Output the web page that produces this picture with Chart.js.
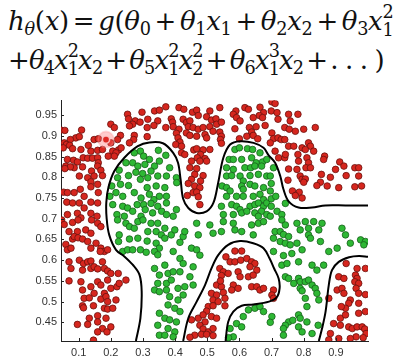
<!DOCTYPE html>
<html><head><meta charset="utf-8">
<script src="https://cdn.jsdelivr.net/npm/chart.js@4/dist/chart.umd.min.js"></script>
<style>
html,body{margin:0;padding:0;background:#fff;width:412px;height:360px;overflow:hidden}
.eq{position:absolute;left:8px;font-family:'DejaVu Serif',serif;font-size:26px;white-space:nowrap;color:#111;line-height:1.2;letter-spacing:-0.3px}
.eq i{font-style:italic}
.eq sub{font-size:0.68em;vertical-align:-0.3em;line-height:0}
.ss{display:inline-block;vertical-align:-0.32em;font-size:0.68em;line-height:1.0}
.ss>span{display:block}
.op{margin:0 0.15em}
#l2{letter-spacing:-0.9px}
#l2 .op{margin:0 0.12em}
#c{position:absolute;left:0;top:90px}
</style></head><body>
<div class="eq" id="l1" style="top:4px"><i>h</i><sub><i>θ</i></sub>(<i>x</i>)<span class="op">=</span><i>g</i>(<i>θ</i><sub>0</sub><span class="op">+</span><i>θ</i><sub>1</sub><i>x</i><sub>1</sub><span class="op">+</span><i>θ</i><sub>2</sub><i>x</i><sub>2</sub><span class="op">+</span><i>θ</i><sub>3</sub><i>x</i><span class="ss"><span>2</span><span>1</span></span></div>
<div class="eq" id="l2" style="top:43px">+<i>θ</i><sub>4</sub><i>x</i><span class="ss"><span>2</span><span>1</span></span><i>x</i><sub>2</sub><span class="op">+</span><i>θ</i><sub>5</sub><i>x</i><span class="ss"><span>2</span><span>1</span></span><i>x</i><span class="ss"><span>2</span><span>2</span></span><span class="op">+</span><i>θ</i><sub>6</sub><i>x</i><span class="ss"><span>3</span><span>1</span></span><i>x</i><sub>2</sub><span class="op">+</span>. . . )</div>
<canvas id="c" width="412" height="270"></canvas>
<script>
const xTicks = [0.1,0.2,0.3,0.4,0.5,0.6,0.7,0.8,0.9];
const yTicks = [0.45,0.5,0.55,0.6,0.65,0.7,0.75,0.8,0.85,0.9,0.95];

const redPoints = [
[0.297,0.957],[0.336,0.960],[0.351,0.962],[0.252,0.952],[0.255,0.941],[0.276,0.936],[0.291,0.933],[0.315,0.940],[0.346,0.936],[0.334,0.925],[0.313,0.920],[0.200,0.928],[0.211,0.920],[0.268,0.928],[0.258,0.924],
[0.044,0.914],[0.057,0.913],[0.109,0.914],[0.230,0.901],[0.273,0.901],[0.313,0.898],[0.271,0.891],[0.091,0.895],[0.102,0.898],[0.074,0.891],[0.148,0.891],[0.161,0.893],[0.200,0.883],[0.221,0.891],[0.055,0.883],[0.062,0.879],[0.052,0.871],[0.072,0.877],[0.081,0.869],[0.107,0.867],[0.130,0.877],[0.138,0.863],[0.159,0.865],[0.174,0.867],[0.206,0.863],[0.224,0.866],[0.232,0.871],[0.216,0.859],[0.258,0.883],
[0.065,0.843],[0.084,0.841],[0.096,0.837],[0.114,0.847],[0.128,0.846],[0.143,0.846],[0.159,0.847],[0.161,0.835],[0.192,0.851],[0.211,0.851],
[0.086,0.823],[0.112,0.825],[0.140,0.815],[0.159,0.827],[0.169,0.817],[0.174,0.804],[0.060,0.827],[0.074,0.825],[0.057,0.821],
[0.102,0.803],[0.128,0.799],[0.148,0.803],[0.138,0.789],
[0.053,0.764],[0.065,0.763],[0.086,0.763],[0.105,0.771],[0.138,0.777],[0.159,0.783],[0.161,0.763],[0.117,0.754],
[0.063,0.740],[0.081,0.738],[0.102,0.738],[0.138,0.740],[0.159,0.738],[0.117,0.726],
[0.065,0.710],[0.096,0.713],[0.138,0.713],[0.157,0.706],[0.107,0.702],
[0.371,0.970],[0.412,0.968],[0.427,0.964],[0.454,0.957],[0.467,0.962],[0.508,0.960],[0.539,0.968],[0.589,0.960],[0.617,0.968],[0.628,0.964],[0.664,0.969],[0.675,0.956],[0.662,0.949],
[0.388,0.941],[0.392,0.933],[0.425,0.940],[0.435,0.932],[0.446,0.936],[0.472,0.949],[0.498,0.946],[0.513,0.938],[0.527,0.941],[0.529,0.928],[0.544,0.933],[0.581,0.952],[0.591,0.944],[0.602,0.936],[0.643,0.944],[0.672,0.944],
[0.371,0.920],[0.394,0.922],[0.412,0.916],[0.441,0.922],[0.456,0.920],[0.472,0.916],[0.487,0.920],[0.508,0.922],[0.518,0.911],[0.539,0.909],[0.544,0.899],[0.586,0.917],[0.631,0.920],[0.638,0.909],[0.652,0.922],[0.680,0.925],
[0.404,0.906],[0.409,0.895],[0.415,0.885],[0.435,0.907],[0.446,0.901],[0.467,0.899],[0.493,0.903],[0.498,0.895],[0.541,0.891],[0.600,0.893],[0.623,0.899],[0.643,0.901],[0.657,0.893],
[0.402,0.879],[0.420,0.875],[0.544,0.882],
[0.420,0.859],[0.430,0.855],[0.458,0.866],[0.467,0.869],[0.487,0.866],[0.508,0.867],[0.479,0.855],[0.469,0.847],[0.493,0.845],[0.451,0.839],[0.477,0.839],[0.498,0.839],[0.446,0.823],[0.467,0.821],[0.461,0.807],[0.487,0.804],[0.451,0.795],[0.479,0.791],[0.441,0.785],[0.461,0.779],[0.477,0.775],[0.438,0.756],[0.456,0.763],[0.467,0.764],[0.472,0.753],[0.477,0.734],
[0.701,0.982],[0.711,0.978],[0.699,0.960],[0.717,0.956],[0.720,0.940],[0.753,0.952],[0.782,0.952],[0.758,0.936],[0.741,0.920],[0.755,0.916],[0.774,0.911],[0.800,0.916],[0.836,0.920],[0.701,0.907],[0.706,0.893],[0.696,0.883],[0.720,0.895],[0.730,0.891],[0.741,0.891],[0.753,0.875],[0.769,0.875],[0.795,0.871],[0.815,0.883],[0.821,0.875],[0.831,0.863],[0.782,0.855],[0.805,0.867],[0.784,0.839],[0.810,0.847],[0.815,0.835],[0.807,0.823],[0.821,0.823],[0.865,0.851],[0.862,0.843],[0.711,0.863],[0.722,0.847],[0.741,0.847],[0.743,0.855],[0.753,0.820],[0.779,0.819],[0.912,0.837],[0.925,0.827],[0.899,0.819],[0.959,0.823],[0.971,0.823],[0.932,0.804],[0.971,0.803],[0.789,0.803],[0.795,0.795],[0.805,0.796],[0.800,0.788],[0.855,0.807],[0.883,0.800],[0.852,0.788],[0.841,0.780],[0.873,0.779],[0.751,0.793],[0.765,0.767],[0.786,0.764],[0.774,0.756],[0.795,0.750],[0.909,0.775],[0.959,0.777],[0.980,0.779],
[0.047,0.697],[0.055,0.686],[0.081,0.691],[0.098,0.697],[0.140,0.697],[0.159,0.689],[0.169,0.681],[0.070,0.669],[0.096,0.669],[0.122,0.673],[0.138,0.665],[0.081,0.651],[0.086,0.657],[0.098,0.654],[0.112,0.651],[0.060,0.638],[0.065,0.625],[0.076,0.629],[0.128,0.645],[0.138,0.629],[0.154,0.641],[0.169,0.629],[0.180,0.621],[0.190,0.625],[0.167,0.621],[0.070,0.596],[0.076,0.580],[0.102,0.600],[0.115,0.592],[0.128,0.596],[0.138,0.598],[0.138,0.580],[0.148,0.584],[0.159,0.579],[0.174,0.596],[0.180,0.580],[0.190,0.574],[0.200,0.568],[0.223,0.568],[0.112,0.576],[0.070,0.550],[0.107,0.548],[0.112,0.528],[0.138,0.536],[0.159,0.548],[0.169,0.540],[0.190,0.552],[0.200,0.532],[0.219,0.536],[0.226,0.544],[0.247,0.552],[0.180,0.520],[0.148,0.520],[0.117,0.508],[0.133,0.509],[0.169,0.506],[0.185,0.512],[0.190,0.500],[0.112,0.490],[0.115,0.485],[0.146,0.490],[0.180,0.484],[0.190,0.482],[0.206,0.484],[0.216,0.504],[0.133,0.460],[0.159,0.466],[0.185,0.460],[0.159,0.451],[0.096,0.445],[0.128,0.445],[0.174,0.435],[0.188,0.427],[0.159,0.427],[0.146,0.407],[0.200,0.439],
[0.586,0.622],[0.607,0.622],[0.558,0.608],[0.571,0.596],[0.586,0.596],[0.604,0.600],[0.623,0.604],[0.638,0.596],[0.648,0.592],[0.633,0.584],[0.654,0.576],[0.539,0.580],[0.550,0.572],[0.544,0.563],[0.565,0.568],[0.596,0.572],[0.602,0.560],[0.628,0.560],[0.643,0.564],[0.529,0.540],[0.544,0.536],[0.541,0.550],[0.581,0.540],[0.576,0.528],[0.596,0.532],[0.638,0.536],[0.654,0.536],[0.664,0.528],[0.675,0.532],[0.513,0.520],[0.529,0.516],[0.550,0.522],[0.555,0.508],[0.518,0.504],[0.534,0.500],[0.503,0.488],[0.518,0.490],[0.555,0.490],[0.498,0.477],[0.472,0.460],[0.487,0.468],[0.513,0.464],[0.529,0.460],[0.451,0.456],[0.493,0.451],[0.477,0.443],[0.487,0.434],[0.503,0.427],[0.518,0.435],[0.461,0.419],[0.446,0.414],[0.482,0.421],[0.498,0.421],[0.518,0.418],
[0.706,0.528],[0.701,0.516],[0.706,0.508],
[0.932,0.592],[0.966,0.580],[0.992,0.580],[0.909,0.560],[0.925,0.556],[0.961,0.564],[0.966,0.556],[0.959,0.548],[0.971,0.544],[0.963,0.532],[0.878,0.508],[0.904,0.528],[0.919,0.532],[0.925,0.520],[0.945,0.504],[0.940,0.496],[0.930,0.484],[0.917,0.488],[0.971,0.520],[0.992,0.517],[0.971,0.496],[0.992,0.476],[0.971,0.472],[0.893,0.447],[0.914,0.443],[0.914,0.460],[0.930,0.468],[0.940,0.439],[0.951,0.435],[0.966,0.439],[0.982,0.439],[0.990,0.434],[0.994,0.423],[0.985,0.413],[0.963,0.415],[0.945,0.411],[0.883,0.423],[0.878,0.408],[0.909,0.411]
];

const greenPoints = [
[0.273,0.859],[0.292,0.863],[0.302,0.851],[0.320,0.843],[0.348,0.865],[0.247,0.835],[0.226,0.817],[0.268,0.835],[0.284,0.827],[0.306,0.831],[0.336,0.827],[0.351,0.839],[0.325,0.815],[0.299,0.809],[0.278,0.812],[0.255,0.804],[0.203,0.779],[0.221,0.799],[0.230,0.783],[0.255,0.780],[0.292,0.795],[0.315,0.799],[0.346,0.803],[0.341,0.779],[0.313,0.775],[0.197,0.754],[0.216,0.763],[0.237,0.754],[0.273,0.763],[0.294,0.750],[0.320,0.759],[0.334,0.746],[0.351,0.754],[0.206,0.734],[0.237,0.730],[0.252,0.726],[0.282,0.734],[0.302,0.734],[0.307,0.722],[0.325,0.737],[0.346,0.730],[0.219,0.710],[0.242,0.706],[0.268,0.718],[0.294,0.706],[0.330,0.714],[0.358,0.718],
[0.371,0.853],[0.383,0.823],[0.373,0.803],[0.404,0.799],[0.405,0.787],[0.368,0.775],[0.373,0.754],[0.373,0.738],[0.404,0.722],[0.373,0.710],[0.394,0.706],
[0.586,0.867],[0.600,0.871],[0.625,0.869],[0.641,0.867],[0.664,0.859],[0.568,0.843],[0.581,0.843],[0.607,0.843],[0.638,0.847],[0.652,0.835],[0.672,0.837],[0.685,0.843],[0.560,0.823],[0.581,0.819],[0.617,0.823],[0.635,0.823],[0.648,0.827],[0.669,0.827],[0.560,0.803],[0.576,0.804],[0.602,0.803],[0.612,0.791],[0.633,0.804],[0.659,0.807],[0.685,0.803],[0.546,0.779],[0.560,0.775],[0.571,0.767],[0.607,0.779],[0.612,0.771],[0.633,0.783],[0.648,0.779],[0.675,0.775],[0.560,0.754],[0.591,0.754],[0.612,0.754],[0.643,0.754],[0.664,0.759],[0.675,0.746],[0.544,0.730],[0.576,0.734],[0.591,0.730],[0.602,0.722],[0.633,0.730],[0.648,0.734],[0.659,0.738],[0.675,0.730],[0.685,0.738],[0.550,0.710],[0.581,0.710],[0.607,0.714],[0.623,0.718],[0.648,0.714],[0.669,0.718],[0.685,0.710],[0.659,0.706],
[0.706,0.823],[0.696,0.803],[0.699,0.785],[0.696,0.767],[0.699,0.748],[0.713,0.754],[0.743,0.737],[0.717,0.718],[0.699,0.730],[0.696,0.706],[0.732,0.710],
[0.221,0.697],[0.247,0.689],[0.258,0.681],[0.284,0.693],[0.300,0.697],[0.273,0.677],[0.325,0.689],[0.346,0.689],[0.315,0.669],[0.341,0.669],[0.357,0.661],[0.226,0.661],[0.224,0.645],[0.258,0.651],[0.284,0.653],[0.313,0.646],[0.341,0.641],[0.351,0.629],[0.237,0.621],[0.252,0.625],[0.268,0.625],[0.292,0.625],[0.310,0.619],[0.336,0.621],[0.346,0.613],[0.336,0.580],[0.351,0.564],[0.346,0.544],[0.336,0.528],[0.351,0.524],[0.351,0.472],[0.346,0.443],[0.351,0.419],
[0.368,0.677],[0.388,0.661],[0.399,0.673],[0.368,0.653],[0.415,0.643],[0.425,0.657],[0.430,0.669],[0.467,0.689],[0.472,0.661],[0.508,0.685],[0.518,0.665],[0.544,0.669],[0.550,0.693],[0.581,0.689],[0.586,0.673],[0.607,0.669],[0.638,0.685],[0.659,0.689],[0.675,0.693],[0.643,0.661],[0.394,0.621],[0.451,0.629],[0.467,0.625],[0.477,0.612],[0.415,0.604],[0.368,0.588],[0.425,0.592],[0.378,0.568],[0.394,0.572],[0.415,0.572],[0.456,0.584],[0.446,0.560],[0.373,0.544],[0.388,0.552],[0.409,0.532],[0.430,0.536],[0.456,0.540],[0.373,0.528],[0.383,0.512],[0.409,0.504],[0.425,0.516],[0.378,0.492],[0.399,0.484],[0.415,0.476],[0.368,0.460],[0.383,0.456],[0.404,0.451],[0.378,0.435],[0.399,0.427],[0.368,0.419],[0.394,0.415],
[0.628,0.480],[0.648,0.484],[0.664,0.488],[0.675,0.476],[0.612,0.464],[0.591,0.447],[0.571,0.435],[0.607,0.439],[0.581,0.415],[0.566,0.413],
[0.732,0.697],[0.743,0.685],[0.779,0.689],[0.805,0.693],[0.831,0.693],[0.857,0.689],[0.847,0.673],[0.815,0.677],[0.789,0.673],[0.711,0.669],[0.727,0.669],[0.737,0.662],[0.753,0.657],[0.706,0.653],[0.727,0.645],[0.743,0.641],[0.758,0.637],[0.779,0.641],[0.815,0.661],[0.821,0.653],[0.852,0.645],[0.919,0.677],[0.930,0.661],[0.945,0.641],[0.977,0.649],[0.992,0.645],[0.987,0.637],[0.706,0.621],[0.737,0.611],[0.763,0.616],[0.795,0.625],[0.878,0.621],[0.904,0.629],[0.732,0.588],[0.748,0.592],[0.784,0.596],[0.826,0.588],[0.841,0.576],[0.862,0.588],[0.743,0.560],[0.753,0.556],[0.784,0.556],[0.789,0.548],[0.769,0.544],[0.805,0.548],[0.815,0.552],[0.826,0.540],[0.789,0.532],[0.795,0.526],[0.836,0.532],[0.841,0.520],[0.805,0.508],[0.847,0.504],[0.810,0.488],[0.784,0.468],[0.789,0.460],[0.753,0.451],[0.743,0.443],[0.766,0.455],[0.737,0.435],[0.784,0.439],[0.810,0.451],[0.845,0.443],[0.737,0.419],[0.795,0.427],[0.826,0.423],[0.701,0.464],[0.696,0.450]
];

const highlightPoint = [[0.185,0.891]];

const boundaryMain = [[0.278,0.405],[0.292,0.460],[0.296,0.524],[0.289,0.565],[0.268,0.589],[0.242,0.609],[0.216,0.625],[0.195,0.661],[0.187,0.701],[0.186,0.740],[0.193,0.777],[0.211,0.815],[0.242,0.847],[0.284,0.875],[0.320,0.884],[0.362,0.882],[0.394,0.859],[0.409,0.835],[0.417,0.795],[0.425,0.748],[0.441,0.726],[0.467,0.714],[0.498,0.718],[0.519,0.738],[0.534,0.787],[0.550,0.847],[0.571,0.879],[0.602,0.887],[0.644,0.883],[0.675,0.871],[0.691,0.853],[0.711,0.835],[0.727,0.803],[0.737,0.771],[0.753,0.742],[0.784,0.727],[0.826,0.727],[0.867,0.732],[0.930,0.732],[1.0,0.732]];
const boundaryInner = [[0.425,0.405],[0.441,0.460],[0.467,0.500],[0.493,0.540],[0.513,0.580],[0.534,0.612],[0.565,0.637],[0.602,0.646],[0.643,0.641],[0.675,0.629],[0.694,0.604],[0.708,0.580],[0.722,0.556],[0.725,0.532],[0.716,0.510],[0.692,0.500],[0.643,0.493],[0.607,0.490],[0.581,0.476],[0.565,0.451],[0.557,0.405]];
const boundaryRight = [[0.847,0.405],[0.857,0.435],[0.868,0.476],[0.878,0.540],[0.888,0.576],[0.909,0.596],[0.941,0.607],[0.972,0.610],[1.0,0.608]];

const toXY = arr => arr.map(p => ({x:p[0], y:p[1]}));
const curve = arr => ({data:toXY(arr), showLine:true, borderColor:'#000', borderWidth:2, pointRadius:0, tension:0.35, fill:false, order:0});

const inwardTicks = {
  id:'inwardTicks',
  afterDatasetsDraw(chart){
    const c = chart.ctx, xs = chart.scales.x, ys = chart.scales.y, a = chart.chartArea;
    c.save(); c.strokeStyle='#222'; c.lineWidth=1; c.beginPath();
    xs.ticks.forEach(t=>{const px=Math.round(xs.getPixelForValue(t.value))+0.5; c.moveTo(px,a.bottom); c.lineTo(px,a.bottom-3);});
    ys.ticks.forEach(t=>{const py=Math.round(ys.getPixelForValue(t.value))+0.5; c.moveTo(a.left,py); c.lineTo(a.left+3,py);});
    c.stroke(); c.restore();
  }
};

new Chart(document.getElementById('c'), {
  type:'scatter',
  data:{datasets:[
    curve(boundaryMain), curve(boundaryInner), curve(boundaryRight),
    {data:toXY(greenPoints), backgroundColor:'rgb(46,184,52)', borderColor:'rgb(22,95,26)', borderWidth:0.8, pointRadius:3.3, order:2},
    {data:toXY(redPoints), backgroundColor:'rgb(214,38,30)', borderColor:'rgb(105,18,14)', borderWidth:0.8, pointRadius:3.3, order:2},
    {data:toXY(highlightPoint), backgroundColor:'rgb(222,40,34)', borderColor:'rgba(255,200,200,0.9)', borderWidth:1.5, pointRadius:3.6, order:1},
    {data:toXY(highlightPoint), backgroundColor:'rgba(255,110,110,0.35)', borderColor:'rgba(255,150,150,0.3)', borderWidth:2, pointRadius:8, order:1}
  ]},
  options:{
    responsive:false, animation:false,
    events:[],
    layout:{padding:{top:10,right:44,left:0,bottom:0}},
    plugins:{legend:{display:false}, tooltip:{enabled:false}},
    scales:{
      x:{type:'linear', min:0.045, max:1.0,
         afterBuildTicks:s=>{s.ticks = xTicks.map(v=>({value:v}));},
         afterFit:s=>{s.height=19;},
         grid:{display:false, drawTicks:false},
         border:{display:true, color:'#222', width:1},
         ticks:{color:'#333', font:{family:'Liberation Sans', size:11}, padding:5, maxRotation:0, autoSkip:false, callback:v=>String(v)}},
      y:{type:'linear', min:0.405, max:0.985,
         afterBuildTicks:s=>{s.ticks = yTicks.map(v=>({value:v}));},
         afterFit:s=>{s.width=61;},
         grid:{display:false, drawTicks:false},
         border:{display:true, color:'#222', width:1},
         ticks:{color:'#333', font:{family:'Liberation Sans', size:11}, padding:4, autoSkip:false, callback:v=>String(v)}}
    }
  },
  plugins:[inwardTicks]
});
</script>
</body></html>
